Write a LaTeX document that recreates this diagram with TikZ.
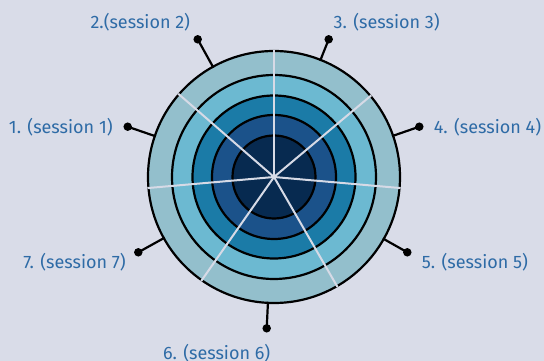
\documentclass[tikz,border=0pt]{standalone}
\usepackage{fontspec}
\setmainfont{Fira Sans}
\usetikzlibrary{calc}
\definecolor{bgc}{HTML}{D9DCE8}
\definecolor{ringa}{HTML}{93BFCC}
\definecolor{ringb}{HTML}{6CB9D1}
\definecolor{ringc}{HTML}{1B7BA7}
\definecolor{ringd}{HTML}{1B528A}
\definecolor{ringe}{HTML}{072A50}
\definecolor{txtc}{HTML}{2E6BA6}
\definecolor{sepc}{HTML}{D6DAE6}
\tikzset{
  ringline/.style={draw=black, line width=2.2pt},
  sepline/.style={draw=sepc, line width=2pt},
  stem/.style={draw=black, line width=2.2pt},
  dot/.style={circle, fill=black, inner sep=0pt, minimum size=8.5pt},
  lbl/.style={text=txtc, font=\fontsize{18}{21}\selectfont, inner sep=0pt}
}
\begin{document}
\begin{tikzpicture}[x=1pt,y=-1pt]
\fill[bgc] (0,0) rectangle (544,361);
\useasboundingbox (0,0) rectangle (544,361);
\coordinate (c) at (274,177);
% rings
\fill[ringa] (c) circle (126pt);
\fill[ringb] (c) circle (102pt);
\fill[ringc] (c) circle (81.5pt);
\fill[ringd] (c) circle (62pt);
\fill[ringe] (c) circle (41.5pt);
\foreach \r in {126,102,81.5,62,41.5} {\draw[ringline] (c) circle (\r pt);}
% separators
\foreach \a in {90,40,-5,-60,-125,185,139} {\draw[sepline] (c) -- ($(c)+(\a:127pt)$);}
% pins
\node[dot] (p1) at (127.7,126.7) {};
\node[dot] (p2) at (197.7,39.3) {};
\node[dot] (p3) at (328.7,39.3) {};
\node[dot] (p4) at (419.3,126.7) {};
\node[dot] (p5) at (407.3,252.3) {};
\node[dot] (p6) at (266.7,328.3) {};
\node[dot] (p7) at (138.3,252.3) {};
\foreach \i in {1,...,7} {
  \coordinate (s\i) at ($(c)!125pt!(p\i)$);
  \draw[stem] (s\i) -- (p\i.center);
}
% labels
\node[lbl] (l1) at (60.8,126.7) {1. (session 1)};
\node[lbl] (l2) at (140.3,22.5) {2.(session 2)};
\node[lbl] (l3) at (386.7,22.5) {3. (session 3)};
\node[lbl] (l4) at (487.5,126.7) {4. (session 4)};
\node[lbl] (l5) at (475,261.7) {5. (session 5)};
\node[lbl] (l6) at (216.7,353.3) {6. (session 6)};
\node[lbl] (l7) at (74.5,261.7) {7. (session 7)};
\end{tikzpicture}
\end{document}
